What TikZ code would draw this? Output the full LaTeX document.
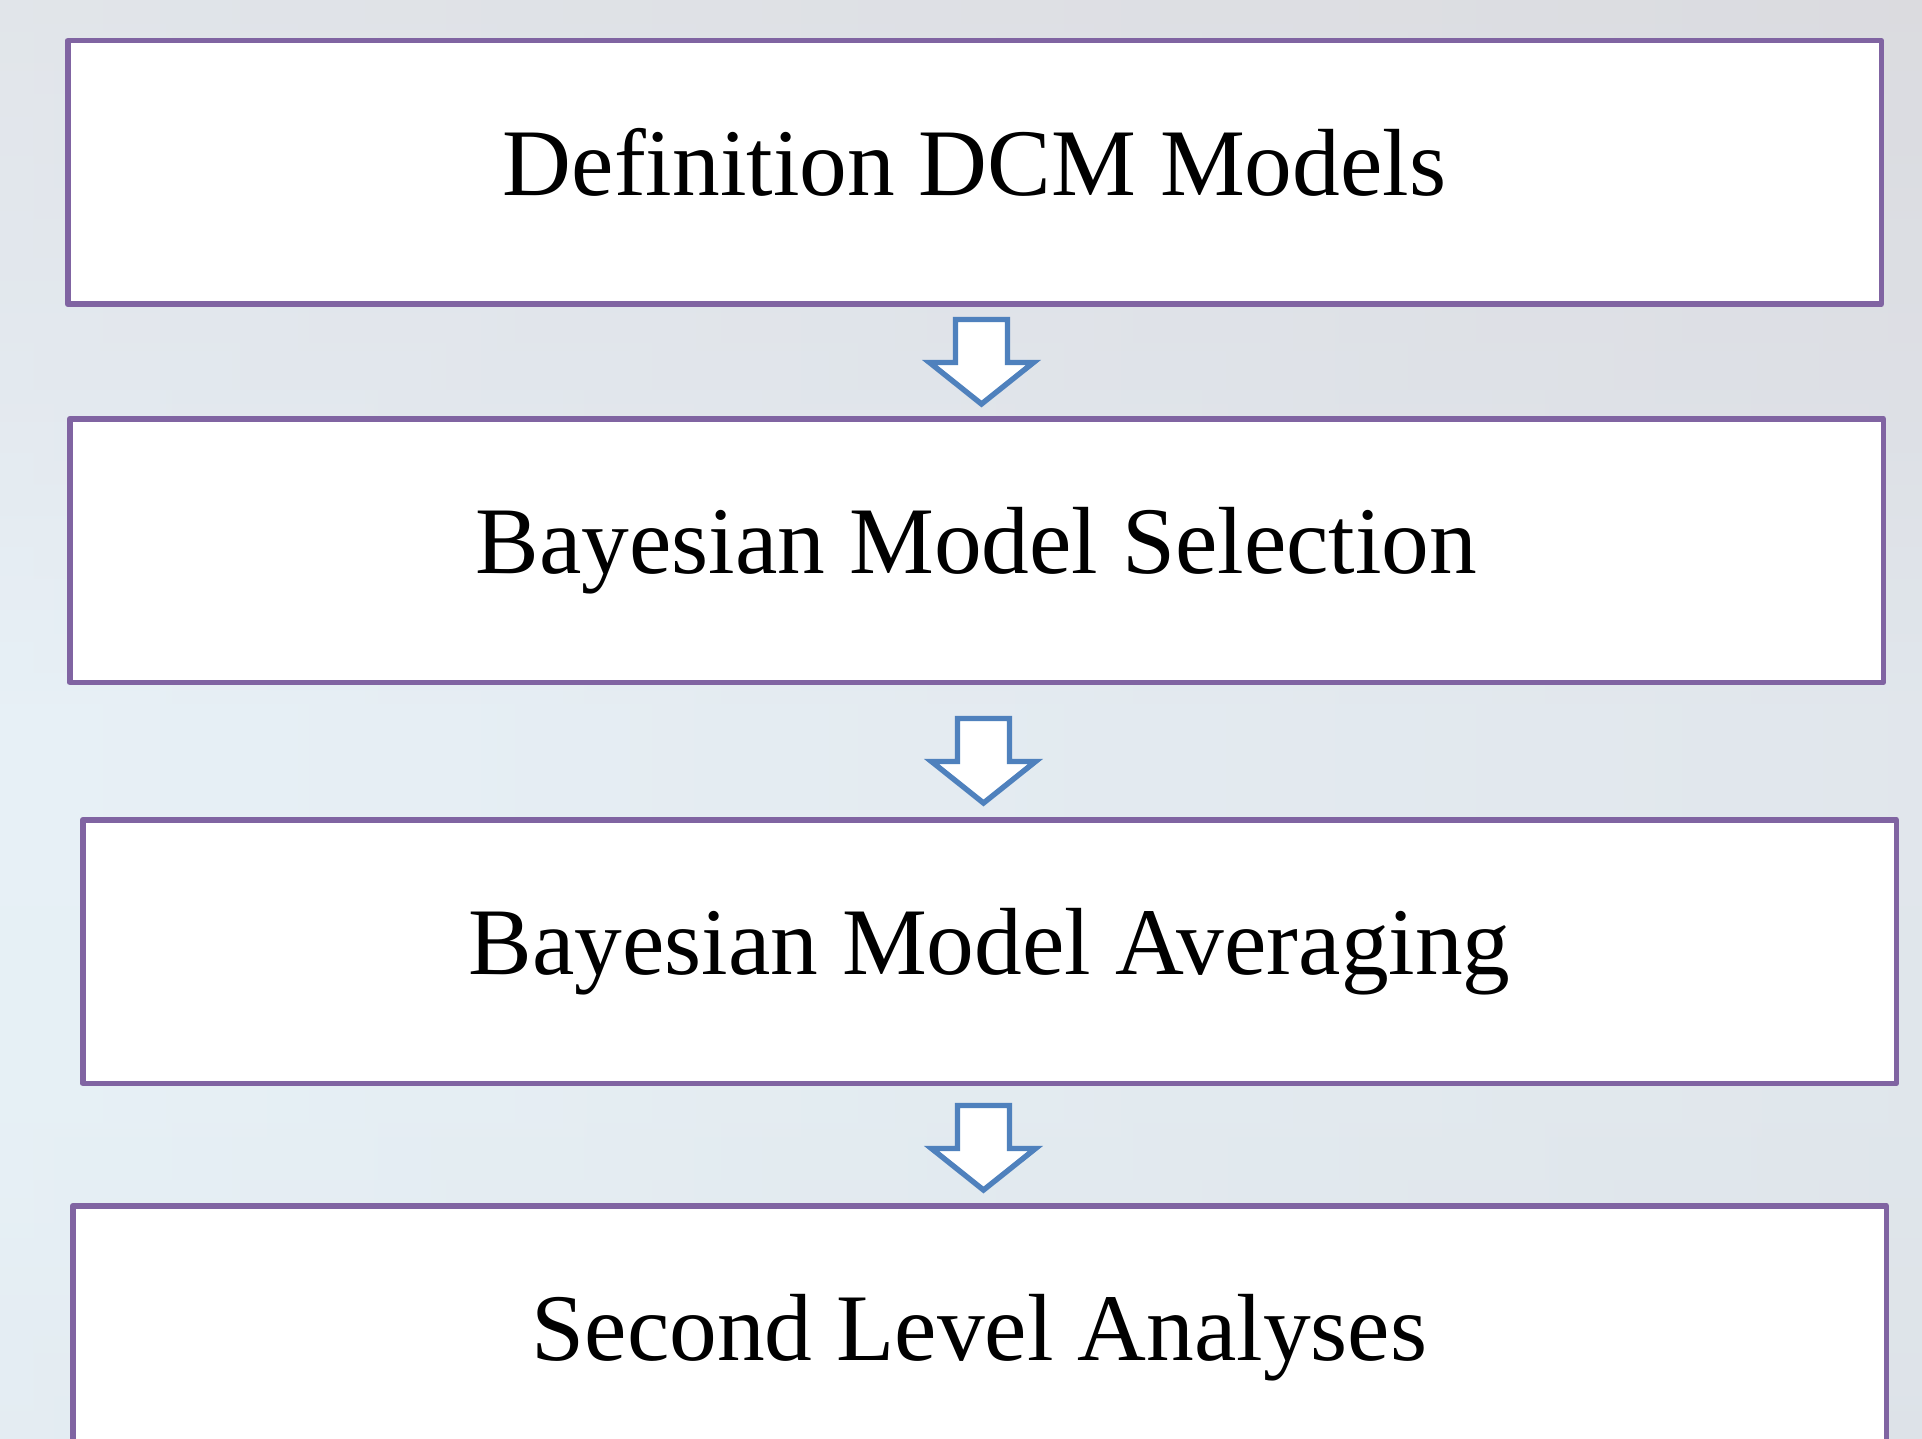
\documentclass[tikz,border=0pt]{standalone}
\usepackage{fontspec}
\setmainfont{Liberation Serif}
\usetikzlibrary{calc}

\definecolor{boxpurple}{HTML}{8064A2}
\definecolor{arrowblue}{HTML}{4F81BD}
\definecolor{bgA}{HTML}{DDDDE1}
\definecolor{bgB}{HTML}{E0E3E9}
\definecolor{bgC}{HTML}{E6EEF4}
\definecolor{bgD}{HTML}{E5EEF3}
\definecolor{bgE}{HTML}{E1E8EE}
\definecolor{bgLeft}{HTML}{EAF5FB}
\definecolor{bgRight}{HTML}{D8D9DE}

% soft backdrop: grey at the top, pale blue towards the middle
\pgfdeclareverticalshading{backdrop}{100bp}{color(0bp)=(bgE); color(25bp)=(bgE); color(37bp)=(bgD); color(50bp)=(bgC); color(62bp)=(bgB); color(75bp)=(bgA); color(100bp)=(bgA)}

\tikzset{
  stepbox/.style={draw=boxpurple, line width=2.75pt, line join=round, fill=white,
    minimum width=906.75pt, minimum height=131.75pt, inner sep=0pt,
    font=\fontsize{47.7}{57}\selectfont, text height=23.2pt, text depth=0pt},
  arrowline/.style={draw=arrowblue, fill=white, line width=2.7pt, line join=miter},
  pics/downarrow/.style={code={
    \draw[arrowline] (-26,0) -- (26,0) -- (26,43) -- (52,43) -- (0,84.5)
      -- (-52,43) -- (-26,43) -- cycle;}}
}

\begin{document}
\begin{tikzpicture}[x=0.5pt, y=-0.5pt]
  % page frame and background
  \path[use as bounding box] (0,0) rectangle (1922,1439);
  \shade[shading=backdrop] (0,0) rectangle (1922,1439);
  \shade[left color=bgLeft, right color=bgRight, fill opacity=0.35] (0,0) rectangle (1922,1439);

  % process steps
  \node[stepbox] (b1) at (974.5,172.5) {Definition DCM Models};
  \node[stepbox] (b2) at (976.5,550.5) {Bayesian Model Selection};
  \node[stepbox] (b3) at (989.5,951.5) {Bayesian Model Averaging};
  \node[stepbox] (b4) at (979.5,1337.5) {Second Level Analyses};

  % block arrows between the steps
  \pic (a1) at (981.5,319.5) {downarrow};
  \pic (a2) at (983.5,718.5) {downarrow};
  \pic (a3) at (983.5,1105.5) {downarrow};
\end{tikzpicture}
\end{document}
